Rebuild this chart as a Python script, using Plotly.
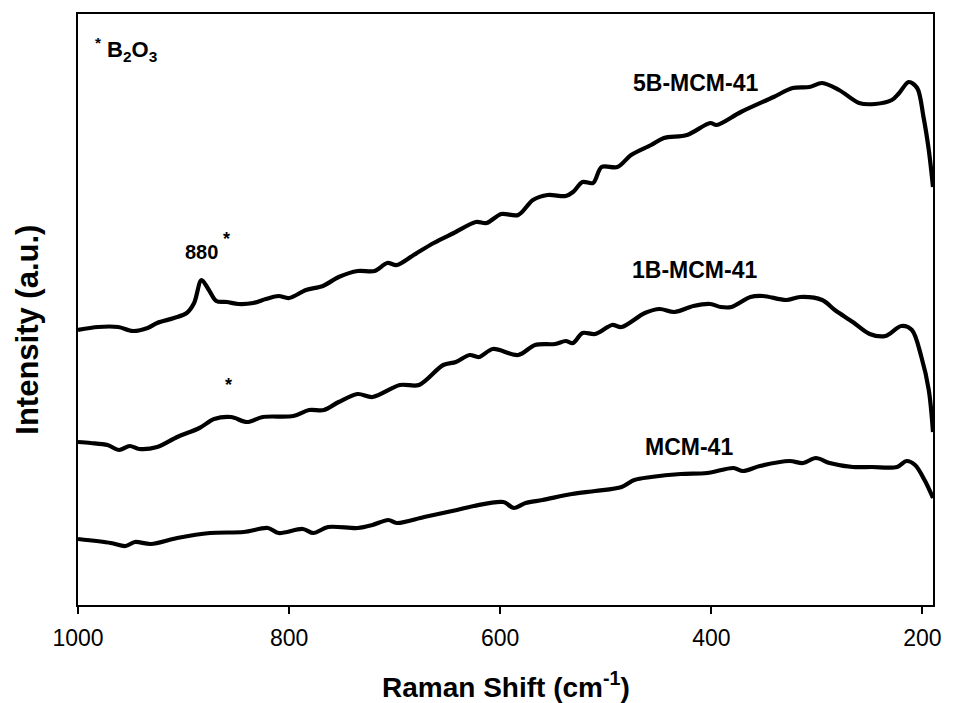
import plotly.graph_objects as go

# 5B-MCM-41
shift_5b = [1000, 981, 962, 948, 934, 925, 909, 897, 890, 883, 876, 869, 859, 848, 834, 822, 810, 800,
            784, 768, 753, 735, 719, 707, 698, 682, 663, 644, 623, 613, 599, 583, 569, 555, 538, 531,
            522, 512, 504, 489, 476, 457, 445, 423, 401, 395, 372, 341, 323, 307, 295, 279, 260, 245,
            229, 222, 213, 205, 199, 194, 190]
int_5b = [275, 278, 278, 274, 277, 282, 287, 292, 302, 325, 315, 304, 303, 301, 302, 306, 309, 307,
          315, 319, 328, 334, 334, 342, 340, 350, 362, 372, 383, 382, 391, 390, 405, 410, 409, 413,
          423, 422, 438, 438, 450, 460, 467, 470, 482, 480, 493, 508, 517, 518, 522, 515, 502, 501,
          505, 512, 523, 517, 488, 455, 418]

# 1B-MCM-41
shift_1b = [1000, 988, 972, 961, 951, 942, 925, 906, 885, 871, 855, 840, 825, 796, 781, 767, 753, 735,
            721, 695, 677, 654, 642, 629, 620, 607, 583, 567, 548, 538, 531, 522, 510, 494, 485, 463,
            449, 435, 417, 401, 391, 381, 363, 351, 329, 316, 295, 283, 266, 250, 235, 220, 210, 201,
            194, 190]
int_1b = [163, 162, 160, 155, 159, 156, 158, 168, 177, 186, 188, 183, 188, 189, 195, 195, 203, 211,
          208, 220, 220, 240, 243, 250, 248, 256, 250, 260, 261, 264, 262, 272, 271, 280, 278, 292,
          296, 293, 299, 301, 298, 298, 308, 309, 305, 308, 305, 295, 283, 271, 269, 279, 275, 248,
          215, 173]

# MCM-41
shift_m = [1000, 969, 955, 946, 931, 906, 875, 843, 820, 810, 787, 777, 763, 735, 721, 706, 698, 672,
           641, 625, 597, 587, 576, 560, 532, 510, 485, 473, 457, 429, 404, 379, 370, 354, 326, 313,
           301, 288, 266, 248, 224, 215, 207, 198, 190]
int_m = [66, 62, 59, 63, 61, 67, 72, 73, 77, 72, 76, 72, 78, 77, 80, 85, 82, 88,
         95, 99, 103, 97, 102, 105, 111, 114, 118, 125, 128, 131, 132, 137, 134, 139, 144, 142,
         147, 142, 138, 138, 138, 144, 140, 125, 107]

tick_vals = [1000, 800, 600, 400, 200]
tick_text = ["1000", "800", "600", "400", "200"]

FONT = "Arial, Liberation Sans, sans-serif"
ML, MR, MT, MB = 78, 11, 14, 98
W, H = 953, 703

fig = go.Figure()
for xs, ys, name in [(shift_5b, int_5b, "5B-MCM-41"), (shift_1b, int_1b, "1B-MCM-41"),
                     (shift_m, int_m, "MCM-41")]:
    fig.add_trace(go.Scatter(x=xs, y=ys, mode="lines", name=name,
                             line=dict(color="black", width=4.2, shape="spline", smoothing=0.9),
                             showlegend=False, hoverinfo="skip"))

annos = [
    dict(x=415, y=522, text="<b>5B-MCM-41</b>", size=23),
    dict(x=416, y=335, text="<b>1B-MCM-41</b>", size=23),
    dict(x=421, y=158, text="<b>MCM-41</b>", size=23),
    dict(x=883, y=353, text="<b>880</b>", size=20),
    dict(x=859, y=366, text="<b>*</b>", size=18),
    dict(x=857, y=220, text="<b>*</b>", size=18),
]
for a in annos:
    fig.add_annotation(x=a["x"], y=a["y"], xref="x", yref="y", text=a["text"], showarrow=False,
                       font=dict(family=FONT, size=a["size"], color="black"))
fig.add_annotation(x=986, y=556, xref="x", yref="y", xanchor="left",
                   text="<b><sup>*</sup> B<sub>2</sub>O<sub>3</sub></b>", showarrow=False,
                   font=dict(family=FONT, size=22, color="black"))

# axis titles as annotations for precise placement
fig.add_annotation(x=0.5, y=-0.135, xref="paper", yref="paper", yanchor="middle",
                   text="<b>Raman Shift (cm<sup>-1</sup>)</b>", showarrow=False,
                   font=dict(family=FONT, size=28, color="black"))
fig.add_annotation(x=(27 - ML) / (W - ML - MR), y=0.465, xref="paper", yref="paper",
                   xanchor="center", yanchor="middle",
                   text="<b>Intensity (a.u.)</b>", showarrow=False, textangle=-90,
                   font=dict(family=FONT, size=31, color="black"))

fig.update_layout(
    width=W, height=H,
    margin=dict(l=ML, r=MR, t=MT, b=MB),
    paper_bgcolor="white", plot_bgcolor="white",
    font=dict(family=FONT, color="black"),
    xaxis=dict(range=[1000, 190], tickvals=tick_vals, ticktext=tick_text, ticks="outside",
               ticklen=7, tickwidth=2, tickcolor="black", showgrid=False, zeroline=False,
               showline=True, linecolor="black", linewidth=2, mirror=True,
               ticklabelstandoff=4,
               tickfont=dict(family=FONT, size=23, color="black")),
    yaxis=dict(range=[0, 591], showticklabels=False, ticks="", showgrid=False, zeroline=False,
               showline=True, linecolor="black", linewidth=2, mirror=True),
)

fig.write_html("out.html")
